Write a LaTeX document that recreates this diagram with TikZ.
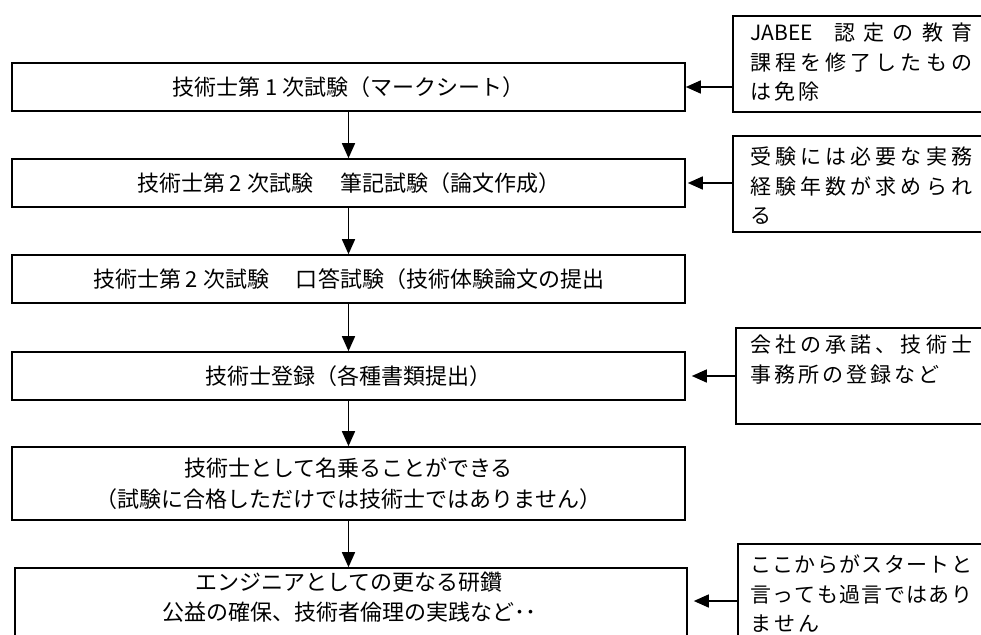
\documentclass[tikz,border=0pt]{standalone}
\usepackage{fontspec}
\setmainfont{Noto Sans CJK JP}
\newfontfamily\mainjp{Noto Sans CJK JP}
\newfontfamily\sidejp{Noto Sans CJK JP}
\usetikzlibrary{arrows.meta}
\makeatletter
\def\spr@ad#1#2\@nil{#1\if\relax\detokenize{#2}\relax\else\hfil\spr@ad#2\@nil\fi}
\newcommand\spreadline[1]{\makebox[222pt][s]{\spr@ad#1\@nil}}
\def\g@p#1#2\@nil{#1\if\relax\detokenize{#2}\relax\else\hspace{3pt}\g@p#2\@nil\fi}
\newcommand\gapline[1]{\g@p#1\@nil}
\makeatother
\begin{document}
\begin{tikzpicture}[x=1pt,y=-1pt,
  mainbox/.style={draw, line width=1.6pt, rectangle, inner sep=0pt,
    minimum width=673pt, font=\mainjp\fontsize{22}{31}\selectfont, align=center},
  sidebox/.style={draw, line width=1.6pt, rectangle, inner sep=0pt,
    minimum width=260pt, minimum height=96pt, anchor=north west},
  sidetext/.style={anchor=north west, inner sep=0pt, align=left,
    font=\sidejp\fontsize{21}{29.5}\selectfont},
  flow/.style={line width=1.5pt, -{Triangle[length=15pt,width=13pt]}}
]
\useasboundingbox (0,0) rectangle (981,634);
% main boxes
\node[mainbox, minimum height=48pt] (b1) at (348.5,87) {技術士第 1 次試験（マークシート）};
\node[mainbox, minimum height=48pt] (b2) at (348.5,183) {技術士第 2 次試験　 筆記試験（論文作成）};
\node[mainbox, minimum height=48pt] (b3) at (348.5,279) {技術士第 2 次試験　 口答試験（技術体験論文の提出};
\node[mainbox, minimum height=48pt] (b4) at (348.5,376) {技術士登録（各種書類提出）};
\node[mainbox, minimum height=73pt] (b5) at (348.5,483.5) {技術士として名乗ることができる\\（試験に合格しただけでは技術士ではありません）};
\node[mainbox, minimum height=76pt, minimum width=672pt] (b6) at (351,606) {};
\node[font=\mainjp\fontsize{22}{30}\selectfont, align=center, inner sep=0pt] (b6t) at (349,597.5) {エンジニアとしての更なる研鑽\\公益の確保、技術者倫理の実践など･･};
% side boxes
\node[sidebox] (s1) at (732,15) {};
\node[sidebox] (s2) at (732,135) {};
\node[sidebox] (s3) at (735,327) {};
\node[sidebox, minimum height=100pt] (s4) at (737,543) {};
\node[sidetext] (s1t) at (750,23) {\makebox[222pt][s]{JABEE\hspace{22pt}認\hfil 定\hfil の\hfil 教\hfil 育}\\\spreadline{課程を修了したもの}\\\gapline{は免除}};
\node[sidetext] (s2t) at (750,147) {\spreadline{受験には必要な実務}\\\spreadline{経験年数が求められ}\\る};
\node[sidetext] (s3t) at (750,335) {\spreadline{会社の承諾、技術士}\\\gapline{事務所の登録など}};
\node[sidetext] (s4t) at (750,555) {\spreadline{ここからがスタートと}\\\spreadline{言っても過言ではあり}\\\gapline{ません}};
% vertical arrows
\draw[flow] (b1.south) -- (b2.north);
\draw[flow] (b2.south) -- (b3.north);
\draw[flow] (b3.south) -- (b4.north);
\draw[flow] (b4.south) -- (b5.north);
\draw[flow] (b5.south) -- (b5.south |- b6.north);
% side arrows
\draw[flow] (s1.west |- b1.east) -- (b1.east);
\draw[flow, shorten >=2pt] (s2.west |- b2.east) -- (b2.east);
\draw[flow, shorten >=6pt] (s3.west |- b4.east) -- (b4.east);
\draw[flow, shorten >=6pt] (s4.west |- 0,601) -- (b6.east |- 0,601);
\end{tikzpicture}
\end{document}
